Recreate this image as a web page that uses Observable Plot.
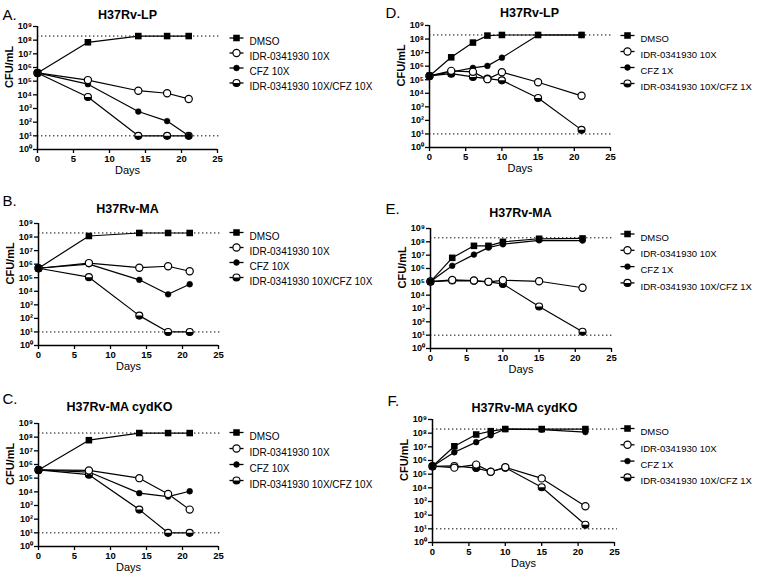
<!DOCTYPE html>
<html><head><meta charset="utf-8">
<script src="https://cdn.jsdelivr.net/npm/d3@7"></script>
<script src="https://cdn.jsdelivr.net/npm/@observablehq/plot@0.6"></script>
<style>
body{margin:0;background:#fff;font-family:"Liberation Sans",Arial,sans-serif;}
#root{position:relative;width:760px;height:574px;overflow:hidden;background:#fff;}
#root svg{position:absolute;overflow:visible;}
</style></head><body><div id="root"></div>
<script>
// ---- data ----
const seriesKeys = ["DMSO", "IDR", "CFZ", "COMBO"];
const legendLeft = ["DMSO", "IDR-0341930 10X", "CFZ 10X", "IDR-0341930 10X/CFZ 10X"];
const legendRight = ["DMSO", "IDR-0341930 10X", "CFZ 1X", "IDR-0341930 10X/CFZ 1X"];
const titles = ["H37Rv-LP", "H37Rv-MA", "H37Rv-MA cydKO", "H37Rv-LP", "H37Rv-MA", "H37Rv-MA cydKO"];
const letters = ["A.", "B.", "C.", "D.", "E.", "F."];
const xTicks = [0, 5, 10, 15, 20, 25];
const yTicks = [1, 1e1, 1e2, 1e3, 1e4, 1e5, 1e6, 1e7, 1e8, 1e9];
const refLines = [2e8, 10];

const daysLeft = [0, 7, 14, 18, 21];
const daysRight = [0, 3, 6, 8, 10, 15, 21];

const aDMSO  = [4e5, 7e7, 2e8, 2e8, 2e8];
const aIDR   = [4e5, 1.2e5, 2e4, 1.3e4, 5e3];
const aCFZ   = [4e5, 6e4, 6e2, 1.2e2, 10];
const aCOMBO = [4e5, 7e3, 10, 10, 10];

const bDMSO  = [5e5, 1.2e8, 2e8, 2e8, 2e8];
const bIDR   = [5e5, 1.2e6, 5.5e5, 7e5, 3e5];
const bCFZ   = [5e5, 1e6, 7e4, 6e3, 3.3e4];
const bCOMBO = [5e5, 1.1e5, 1.6e2, 10, 10];

const cDMSO  = [4e5, 6e7, 2e8, 2e8, 2e8];
const cIDR   = [4e5, 3.7e5, 1e5, 7e3, 5e2];
const cCFZ   = [4e5, 2.8e5, 8e3, 4.5e3, 1.1e4];
const cCOMBO = [4e5, 1.8e5, 5e2, 10, 10];

const dDMSO  = [1.9e5, 4.5e6, 5.5e7, 1.8e8, 2e8, 2e8, 2e8];
const dIDR   = [1.9e5, 4.5e5, 3.8e5, 1.1e5, 3.6e5, 6.5e4, 6.5e3];
const dCFZ   = [1.9e5, 3.7e5, 7.5e5, 1.05e6, 4.2e6, 2e8, 2e8];
const dCOMBO = [1.9e5, 2.8e5, 1.6e5, 1.2e5, 9e4, 4.5e3, 20];

const eDMSO  = [1.05e5, 6.3e6, 5e7, 5e7, 1e8, 1.7e8, 1.8e8];
const eIDR   = [1.05e5, 1.4e5, 1.25e5, 1e5, 1.3e5, 1.1e5, 3.6e4];
const eCFZ   = [1.05e5, 1.6e6, 1.1e7, 3.7e7, 6.6e7, 1.3e8, 1.25e8];
const eCOMBO = [1.05e5, 1.25e5, 1.2e5, 1e5, 7e4, 1.4e3, 18];

const fDMSO  = [3.8e5, 1.1e7, 8e7, 1.4e8, 2e8, 2e8, 2e8];
const fIDR   = [3.8e5, 3e5, 5e5, 1.5e5, 3.2e5, 4.9e4, 4.5e2];
const fCFZ   = [3.8e5, 4e6, 2.2e7, 7e7, 2e8, 1.8e8, 1.2e8];
const fCOMBO = [3.8e5, 4e5, 2.8e5, 1.5e5, 3e5, 1.1e4, 20];

// ---- layout (pixels) ----
const layout = [
  {svgLeft: 0,   svgTop: 0,   left: 37,  right: 217, top: 26,  bottom: 149, tx: 127, ty: 10,  lx: 2,   ly: 9,   gx: 236, gt: 249, gy: 37.5, gs: 15,   gf: 10},
  {svgLeft: 0,   svgTop: 185, left: 38,  right: 218, top: 223, bottom: 345, tx: 127, ty: 204, lx: 2,   ly: 195, gx: 236, gt: 249, gy: 232,  gs: 15,   gf: 10},
  {svgLeft: 0,   svgTop: 375, left: 38,  right: 218, top: 423, bottom: 546, tx: 119, ty: 402, lx: 2,   ly: 393, gx: 236, gt: 249, gy: 432,  gs: 16,   gf: 10},
  {svgLeft: 380, svgTop: 0,   left: 429, right: 610, top: 25,  bottom: 147, tx: 529, ty: 8,   lx: 385, ly: 7,   gx: 627, gt: 640, gy: 35,   gs: 16,   gf: 9.5},
  {svgLeft: 380, svgTop: 185, left: 430, right: 611, top: 228, bottom: 348, tx: 520, ty: 208, lx: 385, ly: 203, gx: 627, gt: 640, gy: 233.5,gs: 16.3, gf: 9.5},
  {svgLeft: 380, svgTop: 375, left: 432, right: 614, top: 419, bottom: 542, tx: 524, ty: 403, lx: 387, ly: 395, gx: 627, gt: 640, gy: 428,  gs: 16.3, gf: 9.5}
];

const panels = [
  {days: daysLeft,  vals: [aDMSO, aIDR, aCFZ, aCOMBO], legend: legendLeft},
  {days: daysLeft,  vals: [bDMSO, bIDR, bCFZ, bCOMBO], legend: legendLeft},
  {days: daysLeft,  vals: [cDMSO, cIDR, cCFZ, cCOMBO], legend: legendLeft},
  {days: daysRight, vals: [dDMSO, dIDR, dCFZ, dCOMBO], legend: legendRight},
  {days: daysRight, vals: [eDMSO, eIDR, eCFZ, eCOMBO], legend: legendRight},
  {days: daysRight, vals: [fDMSO, fIDR, fCFZ, fCOMBO], legend: legendRight}
];

// ---- custom symbols ----
const halfBottom = {draw(ctx, size) { const r = Math.sqrt(size / Math.PI); ctx.moveTo(r, 0); ctx.arc(0, 0, r, 0, Math.PI); ctx.closePath(); }};
const hLine = {draw(ctx) { ctx.moveTo(-7, 0); ctx.lineTo(7, 0); }};

const sup = {"0":"⁰","1":"¹","2":"²","3":"³","4":"⁴","5":"⁵","6":"⁶","7":"⁷","8":"⁸","9":"⁹"};
const fmtPow = d => "10" + String(Math.round(Math.log10(d))).split("").map(c => sup[c]).join("");

function symbolMarks(data, opts) {
  const by = k => data.filter(d => d.series === k);
  return [
    Plot.dot(by("COMBO"), {...opts, symbol: "circle", r: 3.5, fill: "white", stroke: "black", strokeWidth: 1.1}),
    Plot.dot(by("COMBO"), {...opts, symbol: halfBottom, r: 3.5, fill: "black", stroke: "none"}),
    Plot.dot(by("CFZ"), {...opts, symbol: "circle", r: 2.9, fill: "black", stroke: "black", strokeWidth: 0.5}),
    Plot.dot(by("IDR"), {...opts, symbol: "circle", r: 3.6, fill: "white", stroke: "black", strokeWidth: 1.2}),
    Plot.dot(by("DMSO"), {...opts, symbol: "square", r: 3.7, fill: "black", stroke: "none"})
  ];
}

const root = document.getElementById("root");
panels.forEach((p, i) => {
  const L = layout[i];
  const data = [];
  seriesKeys.forEach((k, s) => p.days.forEach((day, j) => data.push({series: k, day, cfu: p.vals[s][j]})));
  const width = 380, mL = L.left - L.svgLeft, mR = L.svgLeft + width - L.right;
  const mT = L.top - L.svgTop, mB = 40;
  const height = L.bottom - L.svgTop + mB;
  const cx = (L.left + L.right) / 2;

  const legendMarks = [];
  p.legend.forEach((label, s) => {
    const dy = L.gy + L.gs * s - L.top;
    const row = [{series: seriesKeys[s]}];
    legendMarks.push(Plot.dot(row, {frameAnchor: "top-left", dx: L.gx - L.left, dy, symbol: hLine, r: 3, stroke: "black", strokeWidth: 1.3, fill: "none"}));
    legendMarks.push(...symbolMarks(row, {frameAnchor: "top-left", dx: L.gx - L.left, dy}));
    legendMarks.push(Plot.text([label], {frameAnchor: "top-left", dx: L.gt - L.left, dy, textAnchor: "start", fontSize: L.gf, fill: "black"}));
  });

  const chart = Plot.plot({
    width, height, marginLeft: mL, marginRight: mR, marginTop: mT, marginBottom: mB,
    style: {fontFamily: "'Liberation Sans', Arial, sans-serif", background: "transparent", overflow: "visible", color: "black"},
    x: {domain: [0, 25]},
    y: {type: "log", domain: [1, 1e9]},
    marks: [
      Plot.ruleY(refLines, {x1: 0, x2: 25.4, stroke: "black", strokeWidth: 1, strokeDasharray: "1.4,2.6"}),
      Plot.axisX(xTicks, {tickSize: 4, tickPadding: 1.5, fontSize: 9.5, fontWeight: "bold", label: null, strokeWidth: 1.3}),
      Plot.axisY(yTicks, {tickSize: 4, tickPadding: 1.5, fontSize: 9, fontWeight: "bold", tickFormat: fmtPow, label: null, strokeWidth: 1.3}),
      Plot.ruleX([0], {y1: 1, y2: 1e9, stroke: "black", strokeWidth: 1.5}),
      Plot.ruleY([1], {x1: 0, x2: 25, stroke: "black", strokeWidth: 1.5}),
      Plot.line(data, {x: "day", y: "cfu", z: "series", stroke: "black", strokeWidth: 1.2}),
      ...symbolMarks(data, {x: "day", y: "cfu"}),
      ...legendMarks,
      Plot.text([titles[i]], {frameAnchor: "top", dx: L.tx - cx, dy: L.ty - L.top, fontSize: 12.5, fontWeight: "bold", fill: "black"}),
      Plot.text([letters[i]], {frameAnchor: "top-left", dx: L.lx - L.left, dy: L.ly - L.top, textAnchor: "start", fontSize: 15, fill: "black"}),
      Plot.text(["CFU/mL"], {frameAnchor: "left", dx: -28, rotate: -90, fontSize: 11, fontWeight: "bold", fill: "black"}),
      Plot.text(["Days"], {frameAnchor: "bottom", dy: 24, fontSize: 11, fill: "black"})
    ]
  });
  chart.style.left = L.svgLeft + "px";
  chart.style.top = L.svgTop + "px";
  root.appendChild(chart);
});
</script></body></html>
